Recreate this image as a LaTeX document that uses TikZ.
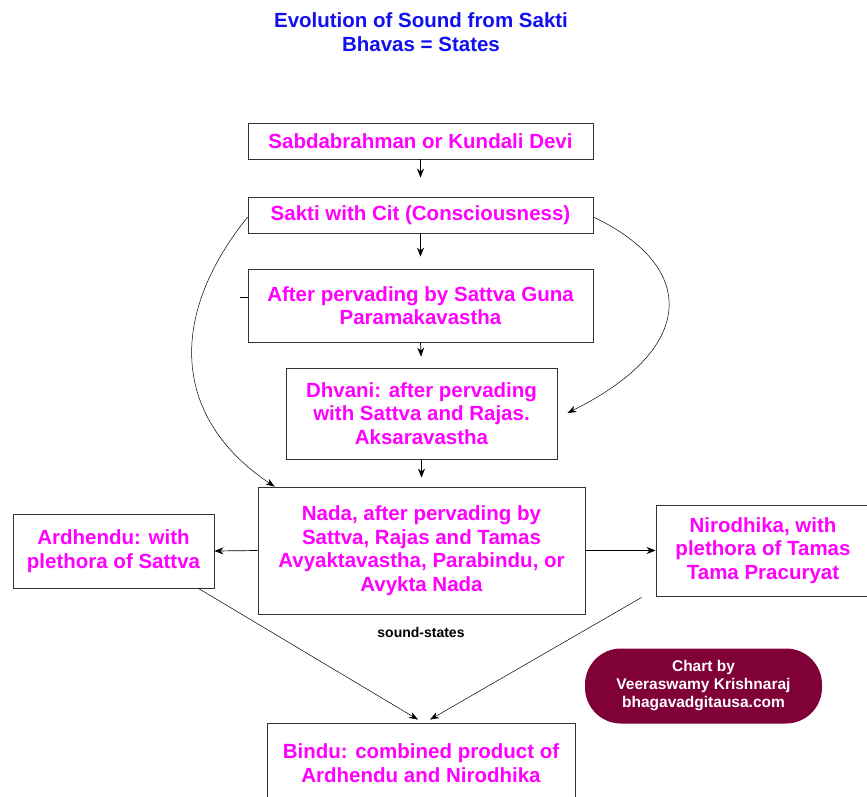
\documentclass[tikz,border=0pt]{standalone}
\usepackage{fontspec}
\setmainfont{Liberation Sans}
\usetikzlibrary{arrows.meta}
\definecolor{mag}{HTML}{FF00FF}
\definecolor{ttl}{HTML}{1010F0}
\definecolor{maroon}{HTML}{800038}
\begin{document}
\begin{tikzpicture}[x=1pt,y=-1pt,
  box/.style={draw=black!80, line width=0.8pt, fill=white, text=mag,
    font=\bfseries\fontsize{20.5}{23.5}\selectfont, align=center, inner sep=0pt},
  arr/.style={-{Stealth[length=9pt,width=7pt]}, line width=0.7pt},
  thin arr/.style={-{Stealth[length=9pt,width=6.5pt]}, line width=0.5pt}]
\useasboundingbox (0,0) rectangle (867,796);
\fill[white] (0,0) rectangle (867,796);

\node[text=ttl, font=\bfseries\fontsize{20.5}{24}\selectfont, align=center] (title) at (421,32)
  {Evolution of Sound from Sakti\\Bhavas = States};

\node[box, minimum width=345pt, minimum height=36pt] (sab) at (420.5,141) {Sabdabrahman or Kundali Devi};
\node[box, minimum width=345pt, minimum height=36pt] (sakti) at (420.5,215) {Sakti with Cit (Consciousness)};
\node[box, minimum width=345pt, minimum height=73pt] (after) at (420.5,305.5) {After pervading by Sattva Guna\\Paramakavastha};
\node[box, minimum width=271pt, minimum height=91pt] (dhvani) at (421.5,413.5) {Dhvani: after pervading\\with Sattva and Rajas.\\Aksaravastha};
\node[box, minimum width=327pt, minimum height=127pt] (nada) at (421.5,550.5) {Nada, after pervading by\\Sattva, Rajas and Tamas\\Avyaktavastha, Parabindu, or\\Avykta Nada};
\node[box, minimum width=201pt, minimum height=74pt] (ard) at (113.5,551) {Ardhendu: with\\plethora of Sattva};
\node[box, minimum width=214pt, minimum height=91pt] (nir) at (763,550.5) {Nirodhika, with\\plethora of Tamas\\Tama Pracuryat};
\node[box, minimum width=308pt, minimum height=80pt] (bindu) at (421,763) {Bindu: combined product of\\Ardhendu and Nirodhika};

\node[font=\bfseries\fontsize{14}{16}\selectfont] (ss) at (421,632) {sound-states};

\node[fill=maroon, rounded corners=36pt, minimum width=237pt, minimum height=75pt, inner sep=0pt,
  text=white, font=\bfseries\fontsize{15.5}{18}\selectfont, align=center] (credit) at (703.5,686)
  {Chart by\\Veeraswamy Krishnaraj\\bhagavadgitausa.com};

\draw[arr, shorten >=19pt] (sab.south) -- (sakti.north);
\draw[arr, shorten >=12pt] (sakti.south) -- (after.north);
\draw[arr, shorten >=11pt] (after.south) -- (dhvani.north);
\draw[arr, shorten >=9pt] (dhvani.south) -- (nada.north);
\draw[line width=0.8pt] ([yshift=8pt]after.west) -- ++(-8,0);

\draw[thin arr] ([yshift=-2pt]sakti.west) .. controls (165,320) and (175,420) .. ([xshift=17pt]nada.north west);
\draw[thin arr] ([yshift=-2pt]sakti.east) .. controls (700,268) and (695,350) .. ([xshift=10pt,yshift=0.5pt]dhvani.east);

\draw[arr] (nada.west) -- (ard.east);
\draw[arr] (nada.east) -- (nir.west);

\draw[thin arr] ([xshift=-16pt]ard.south east) -- ([xshift=-3pt,yshift=3pt]bindu.north);
\draw[thin arr] ([xshift=-14pt,yshift=-1pt]nir.south west) -- ([xshift=9pt,yshift=3pt]bindu.north);
\end{tikzpicture}
\end{document}
